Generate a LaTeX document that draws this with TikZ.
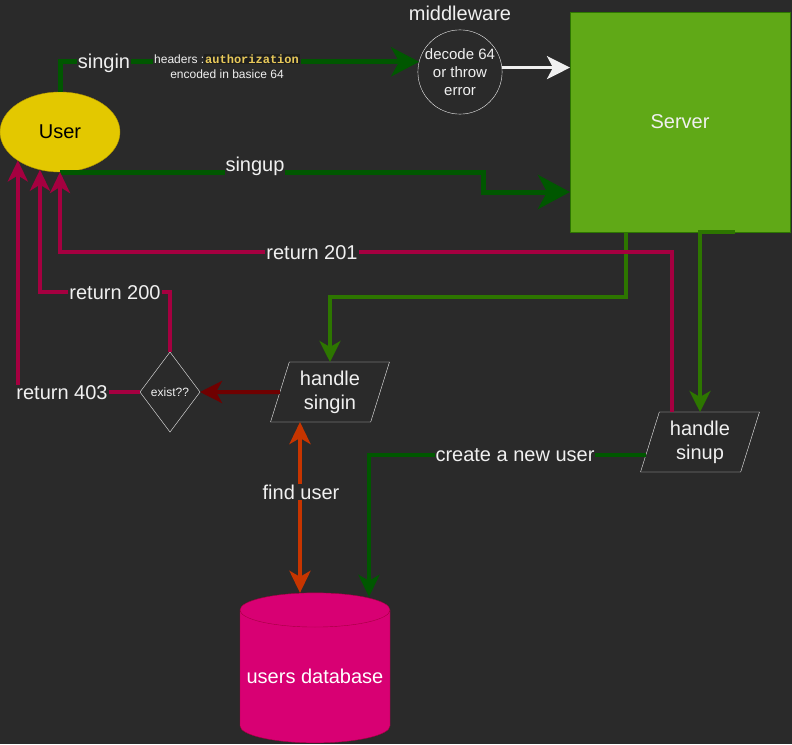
\documentclass[tikz,border=0pt]{standalone}
\usepackage{fontspec}
\setmainfont{Liberation Sans}
\setmonofont{Liberation Mono}
\usetikzlibrary{arrows.meta,shapes.geometric}

\definecolor{bgc}{HTML}{2A2A2A}
\definecolor{txtc}{HTML}{F0F0F0}
\definecolor{usrfill}{HTML}{E3C800}
\definecolor{usrline}{HTML}{B09500}
\definecolor{srvfill}{HTML}{60A917}
\definecolor{srvline}{HTML}{2D7600}
\definecolor{dkgreen}{HTML}{005700}
\definecolor{ltgreen}{HTML}{2D7600}
\definecolor{crimson}{HTML}{A50040}
\definecolor{dkred}{HTML}{6F0000}
\definecolor{orng}{HTML}{C73500}
\definecolor{dbfill}{HTML}{D80073}
\definecolor{dbline}{HTML}{A50040}
\definecolor{monobg}{HTML}{1F1F1F}
\definecolor{yel}{HTML}{E8C95A}

\newcommand{\bigfont}{\fontsize{20}{24}\selectfont}

\tikzset{
  lbl/.style={fill=bgc, text=txtc, inner sep=1pt, font=\bigfont},
  iobox/.style={trapezium, trapezium left angle=72, trapezium right angle=108,
    trapezium stretches=true, minimum width=120pt, minimum height=60pt,
    inner sep=0pt, outer sep=0pt, draw=txtc, text=txtc, align=center, font=\bigfont},
  sgarr/.style={line width=5pt, draw=dkgreen, -{Stealth[length=28pt,width=29pt,inset=8pt]}},
  suarr/.style={line width=5pt, draw=dkgreen, -{Stealth[length=32pt,width=34pt,inset=9pt]}},
  wharr/.style={line width=3pt, draw=txtc, -{Stealth[length=23pt,width=23pt,inset=6pt]}},
  grarr/.style={line width=3.5pt, draw=ltgreen, -{Stealth[length=21pt,width=21pt,inset=6pt]}},
  retarr/.style={line width=4pt, draw=crimson, -{Stealth[length=21pt,width=20pt,inset=6pt]}},
  dkarr/.style={line width=4pt, draw=dkred, -{Stealth[length=22pt,width=22pt,inset=6pt]}},
  fuarr/.style={line width=4pt, draw=orng, {Stealth[length=22pt,width=21pt,inset=6pt]}-{Stealth[length=22pt,width=21pt,inset=6pt]}},
  nuarr/.style={line width=4pt, draw=dkgreen, -{Stealth[length=22pt,width=21pt,inset=6pt]}}
}

\begin{document}
\begin{tikzpicture}[x=1pt, y=-1pt]
    % Canvas
    \useasboundingbox (0,0) rectangle (792,744);
    \fill[bgc] (0,0) rectangle (792,744);

    % Nodes
    \node[ellipse, minimum width=120pt, minimum height=80pt, inner sep=0pt, outer sep=0pt,
          fill=usrfill, draw=usrline, font=\bigfont] (user) at (60,132) {User};
    \node[rectangle, minimum width=220pt, minimum height=220pt, inner sep=0pt, outer sep=0pt,
          fill=srvfill, draw=srvline, text=txtc, font=\bigfont] (srv) at (680,122) {Server};
    \node[text=txtc, font=\bigfont] (mwlbl) at (460,13) {middleware};
    \node[circle, minimum size=80pt, inner sep=0pt, outer sep=0pt, draw=txtc, text=txtc,
          align=center, font=\fontsize{15}{18}\selectfont] (mw) at (460,72) {decode 64\\or throw\\error};
    \node[diamond, minimum width=60pt, minimum height=80pt, inner sep=0pt, outer sep=0pt,
          draw=txtc, text=txtc, font=\fontsize{12}{14}\selectfont] (exist) at (170,392) {exist??};
    \node[iobox] (hsi) at (330,392) {handle\\singin};
    \node[iobox] (hsu) at (700,442) {handle\\sinup};
    \node[cylinder, shape border rotate=90, aspect=0.25, minimum width=150pt, minimum height=150pt,
          inner sep=0pt, outer sep=0pt, fill=dbfill, draw=dbline, text=white,
          font=\bigfont] (db) at (315,676.5) {users database};

    % Requests
    \draw[sgarr] (user.north) |- (mw.166);
    \draw[wharr] (mw.6) -- (mw.6 -| srv.west);
    \draw[suarr] (user.south) -- ++(423,0) |- ([yshift=-70pt]srv.west);
    \draw[grarr] ([xshift=-54pt]srv.south) -- ++(0,65) -| (hsi.north);
    \draw[grarr] ([xshift=55pt]srv.south) -| (hsu.north);

    % Responses
    \draw[retarr] ([xshift=-28pt]hsu.north) -- ++(0,-160) -| (user.south);
    \draw[retarr] (exist.north) -- ++(0,-60) -| (user.-118);
    \draw[retarr] (exist.west) -| (user.-146);
    \draw[dkarr] (hsi.west) -- (exist.east);

    % Database
    \coordinate (fu) at ([xshift=-15pt]db.north);
    \coordinate (nu) at ([xshift=54pt,yshift=-4pt]db.north);
    \draw[fuarr] (fu |- hsi.south) -- (fu);
    \draw[nuarr] ([xshift=-4pt,yshift=-13pt]hsu.west) -| (nu);

    % Labels
    \node[lbl] (lsingin) at (104,63) {singin};
    \node[lbl, align=center, font=\fontsize{12}{15}\selectfont] (lhdr) at (227,66)
        {headers :{\setlength{\fboxsep}{1pt}\colorbox{monobg}{\ttfamily\bfseries\color{yel}authorization}}\\encoded in basice 64};
    \node[lbl] (lsingup) at (255,166) {singup};
    \node[lbl] (l201) at (312,253) {return 201};
    \node[lbl] (l200) at (115,293) {return 200};
    \node[lbl] (l403) at (62,393) {return 403};
    \node[lbl] (lfind) at (301,492) {find user};
    \node[lbl] (lnew) at (515,455) {create a new user};
\end{tikzpicture}
\end{document}
